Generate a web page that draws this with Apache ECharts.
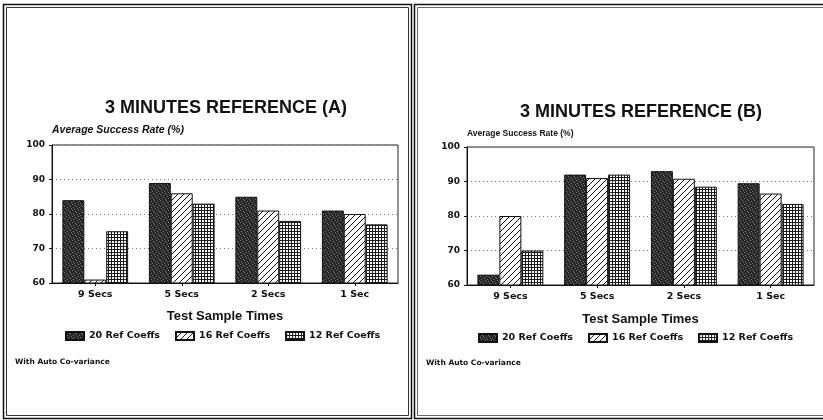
<!DOCTYPE html>
<html>
<head>
    <meta charset="utf-8">
    <script src="https://cdn.jsdelivr.net/npm/echarts@6/dist/echarts.min.js"></script>
    <style>
        html, body { margin: 0; padding: 0; background: #fff; }
        #main { width: 823px; height: 420px; }
    </style>
</head>

<body>
    <div id="main"></div>

    <script type="text/javascript">
        var categories = ['9 Secs', '5 Secs', '2 Secs', '1 Sec'];
        var seriesNames = ['20 Ref Coeffs', '16 Ref Coeffs', '12 Ref Coeffs'];

        // chart A
        var a20 = [84, 89, 85, 81];
        var a16 = [61, 86, 81, 80];
        var a12 = [75, 83, 78, 77];

        // chart B
        var b20 = [63, 92, 93, 89.5];
        var b16 = [80, 91, 90.8, 86.5];
        var b12 = [70, 92, 88.5, 83.5];

        // fill patterns, drawn on small canvases
        function makePattern(kind) {
            var c = document.createElement('canvas');
            c.width = 6; c.height = 6;
            var ctx = c.getContext('2d');
            if (kind == 'stipple') {
                ctx.fillStyle = '#262626';
                ctx.fillRect(0, 0, 6, 6);
                ctx.fillStyle = '#7a7a7a';
                [[0,0],[3,1],[1,3],[5,4],[2,5],[4,2]].forEach(function(p) {
                    ctx.fillRect(p[0], p[1], 1, 1);
                });
            } else if (kind == 'diag') {
                ctx.fillStyle = '#fff';
                ctx.fillRect(0, 0, 6, 6);
                ctx.strokeStyle = '#111';
                ctx.lineWidth = 1;
                ctx.beginPath();
                ctx.moveTo(-1, 7); ctx.lineTo(7, -1);
                ctx.moveTo(-4, 4); ctx.lineTo(4, -4);
                ctx.moveTo(2, 10); ctx.lineTo(10, 2);
                ctx.stroke();
            } else {
                c.width = 3; c.height = 3;
                ctx.fillStyle = '#fff';
                ctx.fillRect(0, 0, 3, 3);
                ctx.fillStyle = '#1a1a1a';
                ctx.fillRect(0, 0, 3, 1);
                ctx.fillRect(0, 0, 1, 3);
            }
            return { image: c, repeat: 'repeat' };
        }

        var fills = [makePattern('stipple'), makePattern('diag'), makePattern('grid')];

        var myChart = echarts.init(document.getElementById('main'));

        var smallFont = 'DejaVu Sans';
        var headFont = 'Liberation Sans';

        function yAxisFor(gridIndex, nameStyle) {
            return {
                gridIndex: gridIndex,
                type: 'value',
                min: 60,
                max: 100,
                interval: 10,
                name: 'Average Success Rate (%)',
                nameLocation: 'end',
                nameGap: 9,
                nameTextStyle: nameStyle,
                axisLine: { show: true, lineStyle: { color: '#111', width: 1 } },
                axisTick: { show: true, length: 3, lineStyle: { color: '#111' } },
                axisLabel: { color: '#111', fontFamily: smallFont, fontWeight: 'bold', fontSize: 9, margin: 7 },
                splitLine: { show: true, lineStyle: { color: '#777', type: [1, 3], width: 1 } }
            };
        }

        function xAxisFor(gridIndex, labelMargin, nameGap) {
            return {
                gridIndex: gridIndex,
                type: 'category',
                data: categories,
                name: 'Test Sample Times',
                nameLocation: 'middle',
                nameGap: nameGap,
                nameTextStyle: { color: '#111', fontFamily: headFont, fontWeight: 'bold', fontSize: 13 },
                axisLine: { show: true, lineStyle: { color: '#111', width: 1 } },
                axisTick: { show: true, alignWithLabel: true, length: 3, lineStyle: { color: '#111' } },
                axisLabel: { color: '#111', fontFamily: smallFont, fontWeight: 'bold', fontSize: 9.5, margin: labelMargin },
                splitLine: { show: false }
            };
        }

        var series = [];
        [[a20, a16, a12], [b20, b16, b12]].forEach(function(group, gi) {
            group.forEach(function(vals, si) {
                series.push({
                    name: seriesNames[si],
                    type: 'bar',
                    xAxisIndex: gi,
                    yAxisIndex: gi,
                    barGap: '0%',
                    barCategoryGap: '24%',
                    itemStyle: { color: fills[si], borderColor: '#111', borderWidth: 1 },
                    emphasis: { disabled: true },
                    data: vals
                });
            });
        });

        var legendText = { color: '#111', fontFamily: smallFont, fontWeight: 'bold', fontSize: 9.5 };
        var noteText = { color: '#111', fontFamily: smallFont, fontWeight: 'bold', fontSize: 7.5 };

        myChart.setOption({
            animation: false,
            title: [
                { text: '3 MINUTES REFERENCE (A)', left: 226, top: 99, padding: 0, textAlign: 'center',
                  textStyle: { color: '#111', fontFamily: headFont, fontWeight: 'bold', fontSize: 18 } },
                { text: '3 MINUTES REFERENCE (B)', left: 641, top: 103, padding: 0, textAlign: 'center',
                  textStyle: { color: '#111', fontFamily: headFont, fontWeight: 'bold', fontSize: 18 } },
                { text: 'With Auto Co-variance', left: 15, top: 358, padding: 0, textStyle: noteText },
                { text: 'With Auto Co-variance', left: 426, top: 359, padding: 0, textStyle: noteText }
            ],
            legend: [
                { data: seriesNames, icon: 'rect', left: 65, top: 331, padding: 0, itemWidth: 18, itemHeight: 8, itemGap: 15,
                  selectedMode: false, textStyle: legendText },
                { data: seriesNames, icon: 'rect', left: 478, top: 333, padding: 0, itemWidth: 18, itemHeight: 8, itemGap: 15,
                  selectedMode: false, textStyle: legendText }
            ],
            grid: [
                { left: 52, right: 425, top: 145, bottom: 137, show: true, borderColor: '#222', borderWidth: 1 },
                { left: 467, right: 9, top: 147, bottom: 135, show: true, borderColor: '#222', borderWidth: 1 }
            ],
            xAxis: [xAxisFor(0, 7, 27), xAxisFor(1, 7, 28)],
            yAxis: [
                yAxisFor(0, { color: '#111', fontFamily: headFont, fontWeight: 'bold', fontStyle: 'italic', fontSize: 10.5, align: 'left' }),
                yAxisFor(1, { color: '#111', fontFamily: headFont, fontWeight: 'bold', fontSize: 8.5, align: 'left' })
            ],
            graphic: [
                { type: 'rect', shape: { x: 3.5, y: 4.5, width: 408, height: 414 }, style: { fill: 'none', stroke: '#111', lineWidth: 1.5 }, silent: true },
                { type: 'rect', shape: { x: 6.5, y: 7.5, width: 402, height: 408 }, style: { fill: 'none', stroke: '#333', lineWidth: 1 }, silent: true },
                { type: 'rect', shape: { x: 414.5, y: 4.5, width: 420, height: 414 }, style: { fill: 'none', stroke: '#111', lineWidth: 1.5 }, silent: true },
                { type: 'rect', shape: { x: 417.5, y: 7.5, width: 420, height: 408 }, style: { fill: 'none', stroke: '#444', lineWidth: 0.8 }, silent: true }
            ],
            series: series
        });
    </script>
</body>

</html>
